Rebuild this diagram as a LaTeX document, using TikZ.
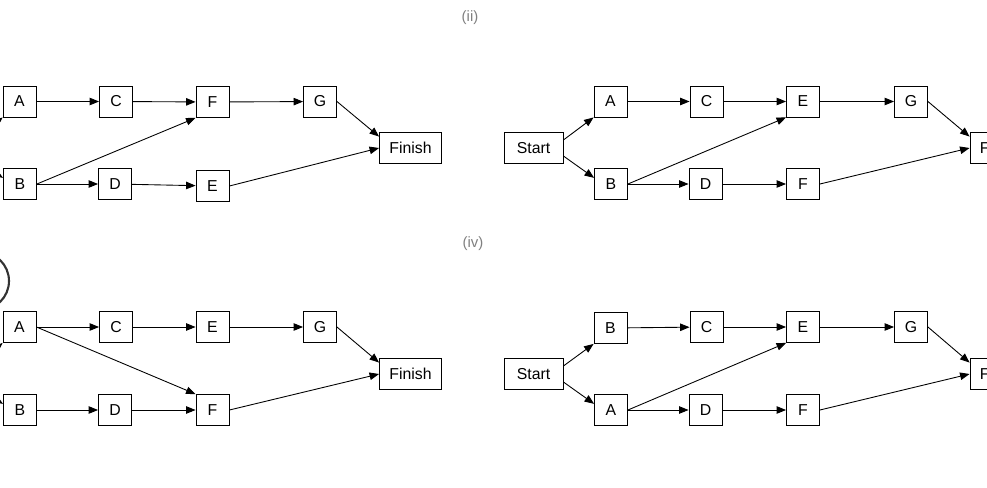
\documentclass[tikz,border=0pt]{standalone}
\usepackage{fontspec}
\setmainfont{Liberation Sans}
\usetikzlibrary{arrows.meta}

\begin{document}
\begin{tikzpicture}[x=0.02cm, y=-0.02cm, line width=0.5pt,
    >={Triangle[length=0.19cm,width=0.15cm]},
    activity/.style ={rectangle, draw, minimum width=0.66cm, minimum height=0.62cm, inner sep=0pt, font=\fontsize{9}{10}\selectfont},
    terminal/.style ={activity, minimum width=1.24cm},
    caption/.style ={text=gray, font=\fontsize{8.5}{10}\selectfont}]
   \clip (0,0) rectangle (987,487);

   \node[caption] (cap1) at (470,18) {(ii)};
   \node[caption] (cap3) at (473,244) {(iv)};
   \draw[line width=1.2pt,black!80] (-20,281) circle [radius=0.58cm];

   \coordinate (S1a) at (-28,144);
   \coordinate (S1b) at (-28,159);
   \node[activity] (A1)  at (19.5,101.5) {A};
   \node[activity] (C1)  at (116,101.5) {C};
   \node[activity] (F1)  at (212.5,102) {F};
   \node[activity] (G1)  at (320,101.5) {G};
   \node[activity] (B1)  at (20,184) {B};
   \node[activity] (D1)  at (115,184) {D};
   \node[activity] (E1)  at (212.5,186) {E};
   \node[terminal] (Fin1) at (410.5,148) {Finish};

   \draw[->] (S1a) to (A1.south west);
   \draw[->] (S1b) to (B1.160);
   \draw[->] (A1) to (C1);
   \draw[->] (C1) to (F1);
   \draw[->] (F1) to (G1);
   \draw[->] (G1.east) to (Fin1.160);
   \draw[->] (B1.east) to (F1.south west);
   \draw[->] (B1) to (D1);
   \draw[->] (D1) to (E1);
   \draw[->] (E1.east) to (Fin1.west);

   \node[terminal, minimum width=1.18cm] (S2) at (533.5,148) {Start};
   \node[activity] (A2)  at (610.5,101.5) {A};
   \node[activity] (C2)  at (706.5,101.5) {C};
   \node[activity] (E2)  at (803,101.5) {E};
   \node[activity] (G2)  at (911,101.5) {G};
   \node[activity] (B2)  at (611,184) {B};
   \node[activity] (D2)  at (705.5,184) {D};
   \node[activity] (F2)  at (803,184) {F};
   \node[terminal] (Fin2) at (1001,148) {Finish};

   \draw[->] (S2.15) to (A2.south west);
   \draw[->] (S2.-15) to (B2.160);
   \draw[->] (A2) to (C2);
   \draw[->] (C2) to (E2);
   \draw[->] (E2) to (G2);
   \draw[->] (G2.east) to (Fin2.160);
   \draw[->] (B2.east) to (E2.south west);
   \draw[->] (B2) to (D2);
   \draw[->] (D2) to (F2);
   \draw[->] (F2.east) to (Fin2.west);

   \coordinate (S3a) at (-28,370);
   \coordinate (S3b) at (-28,385);
   \node[activity] (A3)  at (19.5,327) {A};
   \node[activity] (C3)  at (116,327) {C};
   \node[activity] (E3)  at (212.5,327) {E};
   \node[activity] (G3)  at (320,327) {G};
   \node[activity] (B3)  at (20,410) {B};
   \node[activity] (D3)  at (115,410) {D};
   \node[activity] (F3)  at (212.5,410) {F};
   \node[terminal] (Fin3) at (410.5,374) {Finish};

   \draw[->] (S3a) to (A3.south west);
   \draw[->] (S3b) to (B3.160);
   \draw[->] (A3) to (C3);
   \draw[->] (C3) to (E3);
   \draw[->] (E3) to (G3);
   \draw[->] (G3.east) to (Fin3.160);
   \draw[->] (A3.east) to (F3.north west);
   \draw[->] (B3) to (D3);
   \draw[->] (D3) to (F3);
   \draw[->] (F3.east) to (Fin3.west);

   \node[terminal, minimum width=1.18cm] (S4) at (533.5,374) {Start};
   \node[activity] (B4)  at (610.5,328) {B};
   \node[activity] (C4)  at (706.5,327) {C};
   \node[activity] (E4)  at (803,327) {E};
   \node[activity] (G4)  at (911,327) {G};
   \node[activity] (A4)  at (611,410) {A};
   \node[activity] (D4)  at (705.5,410) {D};
   \node[activity] (F4)  at (803,410) {F};
   \node[terminal] (Fin4) at (1001,374) {Finish};

   \draw[->] (S4.15) to (B4.south west);
   \draw[->] (S4.-15) to (A4.160);
   \draw[->] (B4) to (C4);
   \draw[->] (C4) to (E4);
   \draw[->] (E4) to (G4);
   \draw[->] (G4.east) to (Fin4.160);
   \draw[->] (A4.east) to (E4.south west);
   \draw[->] (A4) to (D4);
   \draw[->] (D4) to (F4);
   \draw[->] (F4.east) to (Fin4.west);
 \end{tikzpicture}
\end{document}
